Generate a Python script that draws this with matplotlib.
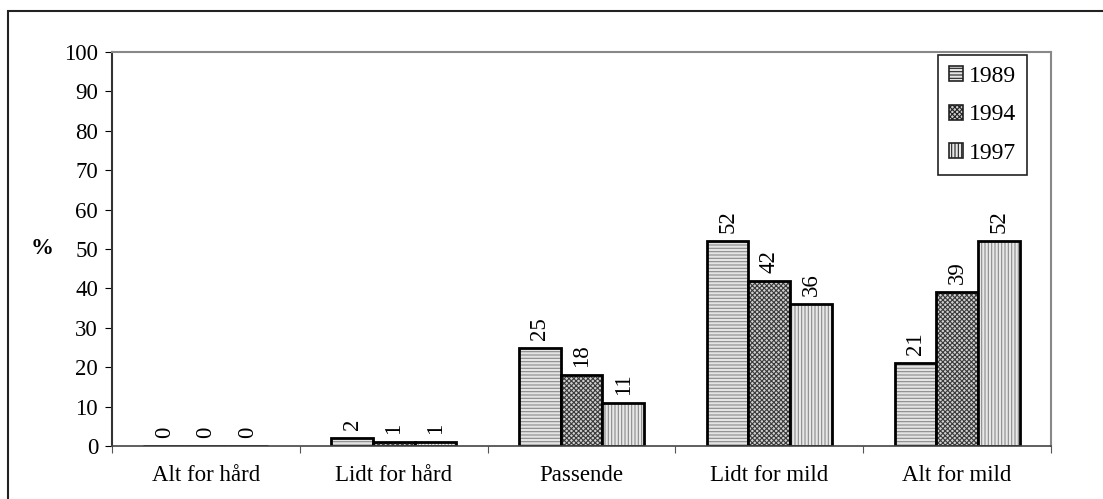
import numpy as np
import matplotlib.pyplot as plt
from matplotlib.patches import Patch, Rectangle

plt.rcParams['font.family'] = ['Liberation Serif', 'DejaVu Serif']
plt.rcParams['hatch.linewidth'] = 0.8

categories = ['Alt for hård', 'Lidt for hård', 'Passende', 'Lidt for mild', 'Alt for mild']
years = ['1989', '1994', '1997']
v1989 = [0, 2, 25, 52, 21]
v1994 = [0, 1, 18, 42, 39]
v1997 = [0, 1, 11, 36, 52]
series = [v1989, v1994, v1997]

hatches = ['-----', 'xxxxxxx', '|||||']
faces = ['#e4e4e4', '#d0d0d0', '#e8e8e8']
hcols = ['#8a8a8a', '#3a3a3a', '#8a8a8a']
fs = 16.5

fig = plt.figure(figsize=(11.03, 4.99), dpi=100)
ax = fig.add_axes([112 / 1103, 1 - 446 / 499, 939 / 1103, 394 / 499])

# outer frame of the chart
fig.patches.append(Rectangle((8 / 1103, -0.1), 1.2, 1 - 11 / 499 + 0.1,
                             transform=fig.transFigure, fill=False,
                             edgecolor='#222222', lw=1.5))

x = np.arange(len(categories))
w = 0.222
for i, vals in enumerate(series):
    pos = x + (i - 1) * w
    ax.bar(pos, vals, w, color=faces[i], edgecolor=hcols[i], hatch=hatches[i], lw=0)
    ax.bar(pos, vals, w, fill=False, edgecolor='black', lw=2)
    for p, v in zip(pos, vals):
        ax.text(p, v + 2, str(v), rotation=90, ha='center', va='bottom', fontsize=fs)

ax.set_xlim(-0.5, len(categories) - 0.5)
ax.set_ylim(0, 100)
ax.set_yticks(range(0, 101, 10))
ax.set_xticks(np.arange(-0.5, len(categories), 1))
ax.set_xticklabels([])
ax.set_xticks(x, minor=True)
ax.set_xticklabels(categories, minor=True)
ax.tick_params(axis='x', which='minor', length=0, pad=14, labelsize=fs)
ax.tick_params(axis='x', which='major', length=5, direction='out', color='#555555')
ax.tick_params(axis='y', length=5, direction='out', labelsize=fs, pad=5)

ax.spines['left'].set_color('#333333')
ax.spines['left'].set_linewidth(1.5)
ax.spines['bottom'].set_color('#444444')
ax.spines['bottom'].set_linewidth(1.2)
ax.spines['top'].set_color('#888888')
ax.spines['top'].set_linewidth(1.5)
ax.spines['right'].set_color('#888888')
ax.spines['right'].set_linewidth(1.5)

fig.text(42 / 1103, 1 - 249 / 499, '%', fontsize=fs, fontweight='bold', ha='center', va='center')

handles = [Patch(facecolor=faces[i], edgecolor='#222222', hatch=hatches[i], lw=1.2) for i in range(3)]
leg = ax.legend(handles, years, loc='upper right', bbox_to_anchor=(1 - 24 / 939, 1 - 3 / 394),
                fontsize=17, frameon=True, fancybox=False, framealpha=1,
                handlelength=0.6, handleheight=0.6, handletextpad=0.25,
                labelspacing=0.75, borderpad=0.45, borderaxespad=0)
leg.get_frame().set_edgecolor('#222222')
leg.get_frame().set_linewidth(1.2)

fig.savefig('out.png', dpi=100)
